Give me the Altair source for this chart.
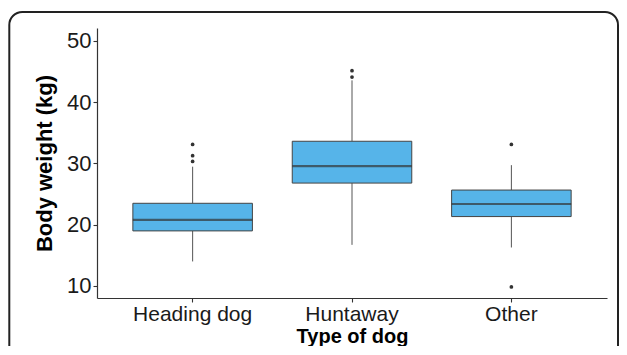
import altair as alt
import pandas as pd

categories = ["Heading dog", "Huntaway", "Other"]
q1 = [18.96, 26.77, 21.30]
median = [20.75, 29.54, 23.35]
q3 = [23.47, 33.60, 25.63]
lower = [13.97, 16.68, 16.25]
upper = [29.45, 43.55, 29.70]

outlier_cat = ["Heading dog", "Heading dog", "Heading dog", "Huntaway", "Huntaway", "Other", "Other"]
outlier_val = [33.08, 31.25, 30.30, 45.12, 44.09, 33.08, 9.80]

y_ticks = [10, 20, 30, 40, 50]

stats = pd.DataFrame({"dog": categories, "q1": q1, "median": median, "q3": q3,
                      "lower": lower, "upper": upper})
outs = pd.DataFrame({"dog": outlier_cat, "w": outlier_val})
frame_df = pd.DataFrame({"k": [0]})

FONT = "Liberation Sans"

x_enc = alt.X("dog:N", sort=categories, title="Type of dog",
              scale=alt.Scale(paddingInner=0.25, paddingOuter=0.225),
              axis=alt.Axis(labelAngle=0))
y_scale = alt.Scale(domain=[8.0, 52.1], nice=False, zero=False)

base = alt.Chart(stats)

whisk_lo = base.mark_rule(color="#555555", strokeWidth=1).encode(
    x=x_enc,
    y=alt.Y("lower:Q", scale=y_scale, title="Body weight (kg)",
            axis=alt.Axis(values=y_ticks)),
    y2="q1:Q")
whisk_hi = base.mark_rule(color="#555555", strokeWidth=1).encode(
    x=x_enc, y=alt.Y("q3:Q", scale=y_scale), y2="upper:Q")
box = base.mark_bar(fill="#56B4E9", stroke="#444444", strokeWidth=1).encode(
    x=x_enc, y=alt.Y("q1:Q", scale=y_scale), y2="q3:Q")
med = base.mark_tick(orient="horizontal", color="#333333", thickness=2.2, size=119.6).encode(
    x=x_enc, y=alt.Y("median:Q", scale=y_scale))
pts = alt.Chart(outs).mark_circle(color="#333333", size=14, opacity=1).encode(
    x=x_enc, y=alt.Y("w:Q", scale=y_scale))
frame = alt.Chart(frame_df).mark_rect(fill="transparent", stroke="#222222", strokeWidth=2,
                                       cornerRadius=13).encode(
    x=alt.value(-87.7), x2=alt.value(521.0), y=alt.value(-16), y2=alt.value(345))

chart = alt.layer(frame, whisk_lo, whisk_hi, box, med, pts).properties(
    width=510, height=270,
    autosize=alt.AutoSizeParams(type="none"),
    padding={"left": 89, "top": 20, "right": 12, "bottom": 48},
).configure_view(stroke=None).configure_axis(
    grid=False, domainColor="#333333", domainWidth=1.2, tickColor="#333333",
    tickSize=4, tickWidth=1.1, labelFont=FONT, labelFontSize=22, labelColor="#1a1a1a",
    titleFont=FONT, titleFontSize=22, titleFontWeight="bold", titleColor="#000000",
    labelPadding=2,
).configure_axisX(titlePadding=2, labelPadding=1, labelFontSize=21,
                  titleFontSize=20).configure_axisY(titlePadding=10)

chart.save("out.html", embed_options={"renderer": "svg", "actions": False})
